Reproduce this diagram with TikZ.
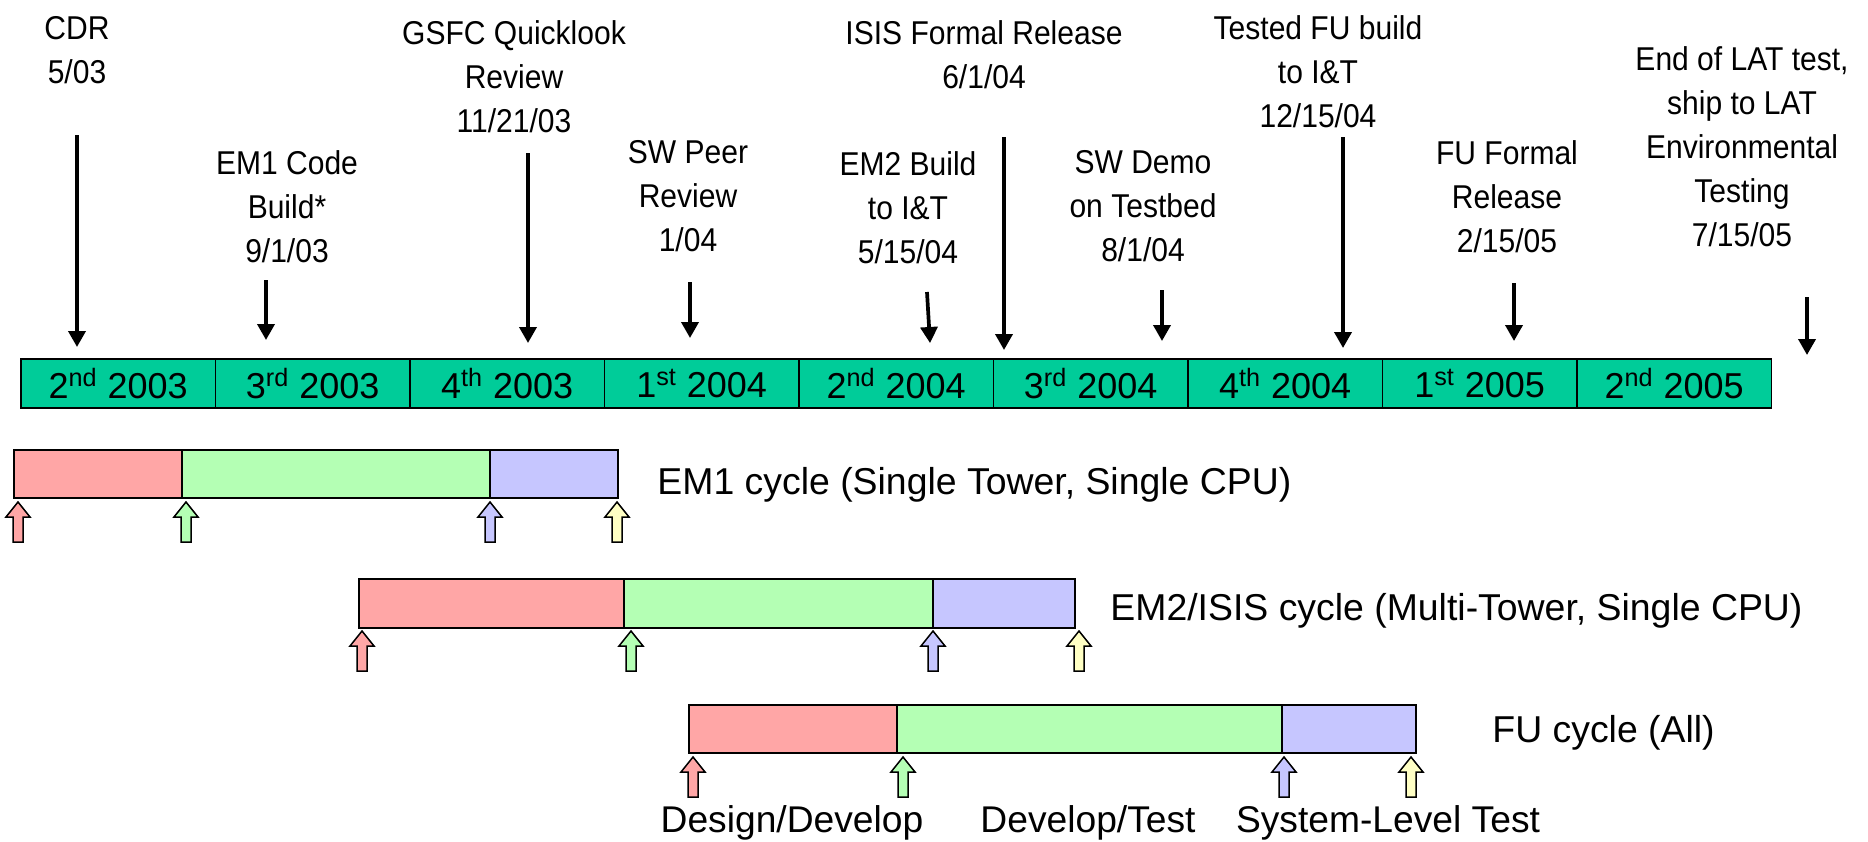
\documentclass[tikz,border=0pt]{standalone}
\usepackage{fontspec}
\setmainfont{Liberation Sans}
\newfontfamily\narrowfont{Liberation Sans}[FakeStretch=0.91]
\usetikzlibrary{arrows.meta}

\definecolor{quarterteal}{RGB}{0,204,153}
\definecolor{designred}{RGB}{255,166,166}
\definecolor{developgreen}{RGB}{180,255,180}
\definecolor{testblue}{RGB}{198,198,255}
\definecolor{shipyellow}{RGB}{255,255,196}

\begin{document}
\begin{tikzpicture}[x=0.5pt, y=-0.5pt,
    milestone/.style={font=\narrowfont\fontsize{16.5}{22}\selectfont, align=center, anchor=north, inner sep=0pt},
    pointer/.style={-{Triangle[width=8.5pt,length=8pt]}, line width=1.85pt},
    quarter/.style={draw, line width=0.9pt, fill=quarterteal, anchor=north west,
        minimum width=97.25pt, minimum height=24.5pt, inner sep=0pt, font=\fontsize{18}{21.6}\selectfont},
    phase/.style={draw, line width=1pt},
    cyclename/.style={anchor=base west, inner sep=0pt, font=\fontsize{18.7}{22}\selectfont},
    phasename/.style={anchor=base, inner sep=0pt, font=\fontsize{18.6}{22}\selectfont},
    pics/cue/.style={code={
        \draw[fill=#1, line width=0.75pt] (0,0) -- (12,15) -- (5,15) -- (5,40)
            -- (-5,40) -- (-5,15) -- (-12,15) -- cycle;}}]
    \useasboundingbox (0,0) rectangle (1868,841);

    % Milestones
    \node[milestone] (cdr)       at (77,16)   {CDR\\5/03};
    \node[milestone] (em1code)   at (287,150) {EM1 Code\\Build*\\9/1/03};
    \node[milestone] (gsfc)      at (514,20)  {GSFC Quicklook\\Review\\11/21/03};
    \node[milestone] (peer)      at (688,140) {SW Peer\\Review\\1/04};
    \node[milestone] (em2build)  at (908,151) {EM2 Build\\to I\&T\\5/15/04};
    \node[milestone] (isis)      at (984,20)  {ISIS Formal Release\\6/1/04};
    \node[milestone] (demo)      at (1143,150) {SW Demo\\on Testbed\\8/1/04};
    \node[milestone] (fubuild)   at (1318,15) {Tested FU build\\to I\&T\\12/15/04};
    \node[milestone] (furelease) at (1507,140) {FU Formal\\Release\\2/15/05};
    \node[milestone] (latship)   at (1742,46) {End of LAT test,\\ship to LAT\\Environmental\\Testing\\7/15/05};

    \foreach \n/\xa/\ya/\xb/\yb in {cdr/77/135/77/347, em1code/266/280/266/340,
        gsfc/528/153/528/343, peer/690/282/690/338, em2build/927/292/930/343,
        isis/1004/137/1004/350, demo/1162/290/1162/341, fubuild/1343/137/1343/348,
        furelease/1514/283/1514/341, latship/1807/297/1807/355} {
        \coordinate (\n-from) at (\xa,\ya);
        \coordinate (\n-to) at (\xb,\yb);
        \draw[pointer] (\n-from) -- (\n-to);
    }

    % Quarters
    \foreach \q [count=\i from 0] in {2\textsuperscript{nd} 2003, 3\textsuperscript{rd} 2003,
        4\textsuperscript{th} 2003, 1\textsuperscript{st} 2004, 2\textsuperscript{nd} 2004,
        3\textsuperscript{rd} 2004, 4\textsuperscript{th} 2004, 1\textsuperscript{st} 2005,
        2\textsuperscript{nd} 2005}
        \node[quarter] (q\i) at ({20+194.5*\i},358) {\q};

    % EM1 cycle
    \draw[phase, fill=designred]    (14,450) rectangle (182,498);
    \draw[phase, fill=developgreen] (182,450) rectangle (490,498);
    \draw[phase, fill=testblue]     (490,450) rectangle (618,498);
    \node[cyclename] (em1) at (657,494) {EM1 cycle (Single Tower, Single CPU)};
    \pic at (18,502)  {cue=designred};
    \pic at (186,502) {cue=developgreen};
    \pic at (490,502) {cue=testblue};
    \pic at (617,502) {cue=shipyellow};

    % EM2/ISIS cycle
    \draw[phase, fill=designred]    (359,579) rectangle (630,628);
    \draw[phase, fill=developgreen] (624,579) rectangle (933,628);
    \draw[phase, fill=testblue]     (933,579) rectangle (1075,628);
    \node[cyclename] (em2) at (1110,620) {EM2/ISIS cycle (Multi-Tower, Single CPU)};
    \pic at (362,631)  {cue=designred};
    \pic at (631,631)  {cue=developgreen};
    \pic at (933,631)  {cue=testblue};
    \pic at (1079,631) {cue=shipyellow};

    % FU cycle
    \draw[phase, fill=designred]    (689,705) rectangle (897,753);
    \draw[phase, fill=developgreen] (897,705) rectangle (1282,753);
    \draw[phase, fill=testblue]     (1282,705) rectangle (1416,753);
    \node[cyclename] (fu) at (1492,742) {FU cycle (All)};
    \pic at (693,757)  {cue=designred};
    \pic at (903,757)  {cue=developgreen};
    \pic at (1284,757) {cue=testblue};
    \pic at (1411,757) {cue=shipyellow};

    % Phase names
    \node[phasename] (design)  at (792,832)  {Design/Develop};
    \node[phasename] (develop) at (1088,832) {Develop/Test};
    \node[phasename] (system)  at (1388,832) {System-Level Test};
\end{tikzpicture}
\end{document}
